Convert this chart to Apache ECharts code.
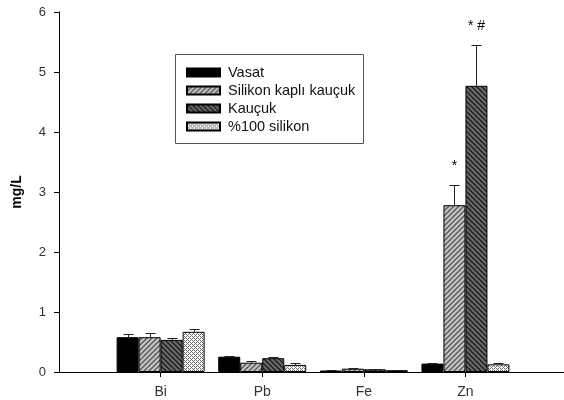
<!DOCTYPE html>
<html><head><meta charset="utf-8">
<script src="https://cdn.jsdelivr.net/npm/echarts@6/dist/echarts.min.js"></script>
<style>html,body{margin:0;padding:0;background:#fff}#c{width:564px;height:400px}</style>
</head><body><div id="c"></div>
<script>
var categories = ['Bi', 'Pb', 'Fe', 'Zn'];
var seriesNames = ['Vasat', 'Silikon kaplı kauçuk', 'Kauçuk', '%100 silikon'];
var vasat = [0.58, 0.255, 0.025, 0.14];
var vasatErr = [0.06, 0.012, 0.008, 0.016];
var silikonKapli = [0.58, 0.155, 0.055, 2.78];
var silikonKapliErr = [0.075, 0.035, 0.005, 0.33];
var kaucuk = [0.535, 0.23, 0.045, 4.77];
var kaucukErr = [0.025, 0.02, 0.013, 0.68];
var silikon100 = [0.67, 0.118, 0.03, 0.128];
var silikon100Err = [0.045, 0.027, 0.005, 0.018];
var silikonKapliMarks = ['', '', '', '*'];
var kaucukMarks = ['', '', '', '* #'];
var yTicks = [0, 1, 2, 3, 4, 5, 6];

var BAR_W = 22;

function makePattern(kind) {
  var s = 5;
  var c = document.createElement('canvas');
  c.width = s; c.height = s;
  var g = c.getContext('2d');
  if (kind === 'fwd') {
    g.fillStyle = '#c4c4c4'; g.fillRect(0, 0, s, s);
    g.strokeStyle = '#555'; g.lineWidth = 1.3;
    g.beginPath();
    g.moveTo(-1, s + 1); g.lineTo(s + 1, -1);
    g.moveTo(-1, 1); g.lineTo(1, -1);
    g.moveTo(s - 1, s + 1); g.lineTo(s + 1, s - 1);
    g.stroke();
  } else if (kind === 'back') {
    g.fillStyle = '#6a6a6a'; g.fillRect(0, 0, s, s);
    g.strokeStyle = '#1a1a1a'; g.lineWidth = 1.3;
    g.beginPath();
    g.moveTo(-1, -1); g.lineTo(s + 1, s + 1);
    g.moveTo(s - 1, -1); g.lineTo(s + 1, 1);
    g.moveTo(-1, s - 1); g.lineTo(1, s + 1);
    g.stroke();
  } else {
    c.width = 4; c.height = 4;
    g.fillStyle = '#ffffff'; g.fillRect(0, 0, 4, 4);
    g.fillStyle = '#6e6e6e';
    g.fillRect(0, 0, 1, 1); g.fillRect(2, 0, 1, 1);
    g.fillRect(1, 1, 1, 1); g.fillRect(2, 2, 1, 1);
    g.fillRect(0, 2, 1, 1); g.fillRect(3, 3, 1, 1);
  }
  return { image: c, repeat: 'repeat' };
}

var fills = ['#000000', makePattern('fwd'), makePattern('back'), makePattern('dots')];
var values = [vasat, silikonKapli, kaucuk, silikon100];
var errs = [vasatErr, silikonKapliErr, kaucukErr, silikon100Err];
var marks = [null, silikonKapliMarks, kaucukMarks, null];

var series = [];
values.forEach(function (arr, k) {
  series.push({
    name: seriesNames[k],
    type: 'bar',
    barWidth: BAR_W,
    barGap: '0%',
    data: arr.map(function (v, i) { return [i + 1, v]; }),
    itemStyle: { color: fills[k], borderColor: '#000', borderWidth: 1 },
    emphasis: { disabled: true },
    z: 2
  });
});
values.forEach(function (arr, k) {
  series.push({
    type: 'custom',
    silent: true,
    z: 3,
    data: arr.map(function (v, i) { return [i + 1, v, errs[k][i], k, i]; }),
    renderItem: function (params, api) {
      var x = api.value(0), y = api.value(1), e = api.value(2);
      var kk = api.value(3), ii = api.value(4);
      var p = api.coord([x, y]);
      var pt = api.coord([x, y + e]);
      var cx = Math.round(p[0] + (kk - 1.5) * BAR_W) + 0.5;
      var top = Math.round(pt[1]) + 0.5;
      var children = [
        { type: 'line', shape: { x1: cx, y1: p[1], x2: cx, y2: top }, style: { stroke: '#222', lineWidth: 1 } },
        { type: 'line', shape: { x1: cx - 5, y1: top, x2: cx + 5, y2: top }, style: { stroke: '#222', lineWidth: 1 } }
      ];
      var m = marks[kk];
      if (m && m[ii]) {
        children.push({ type: 'text', style: { text: m[ii], x: cx, y: top - 19, align: 'center', verticalAlign: 'middle', fill: '#000', font: '14px "Liberation Sans", Arial, sans-serif' } });
      }
      return { type: 'group', children: children };
    }
  });
});

var chart = echarts.init(document.getElementById('c'), null, { renderer: 'canvas' });
chart.setOption({
  animation: false,
  backgroundColor: '#fff',
  textStyle: { fontFamily: '"Liberation Sans", Arial, sans-serif' },
  grid: { left: 59, top: 12, right: 0, height: 360 },
  xAxis: {
    type: 'value', min: 0, max: 4.97,
    splitLine: { show: false },
    axisLine: { show: true, lineStyle: { color: '#000', width: 1 } },
    axisTick: { show: true, length: 5, customValues: [1, 2, 3, 4], lineStyle: { color: '#000' } },
    axisLabel: { customValues: [1, 2, 3, 4], formatter: function (v) { return categories[v - 1] || ''; }, color: '#333', fontSize: 14, margin: 13 }
  },
  yAxis: {
    type: 'value', min: 0, max: 6, interval: 1,
    name: 'mg/L', nameLocation: 'middle', nameGap: 35, nameRotate: 90,
    nameTextStyle: { fontWeight: 'bold', fontSize: 14, color: '#000' },
    splitLine: { show: false },
    axisLine: { show: true, lineStyle: { color: '#000', width: 1 } },
    axisTick: { show: true, length: 5, lineStyle: { color: '#000' } },
    axisLabel: { customValues: yTicks, color: '#333', fontSize: 13, margin: 13 }
  },
  legend: {
    orient: 'vertical', left: 186, top: 65, padding: 0,
    itemWidth: 33, itemHeight: 8, itemGap: 3,
    icon: 'rect',
    data: seriesNames,
    textStyle: { color: '#111', fontSize: 14.5, lineHeight: 14, padding: [0, 0, 0, 3] },
    selectedMode: false
  },
  graphic: [{
    type: 'rect', z: 0, silent: true,
    shape: { x: 175.5, y: 54.5, width: 188, height: 89 },
    style: { fill: 'none', stroke: '#555', lineWidth: 1 }
  }],
  series: series
});
</script></body></html>
